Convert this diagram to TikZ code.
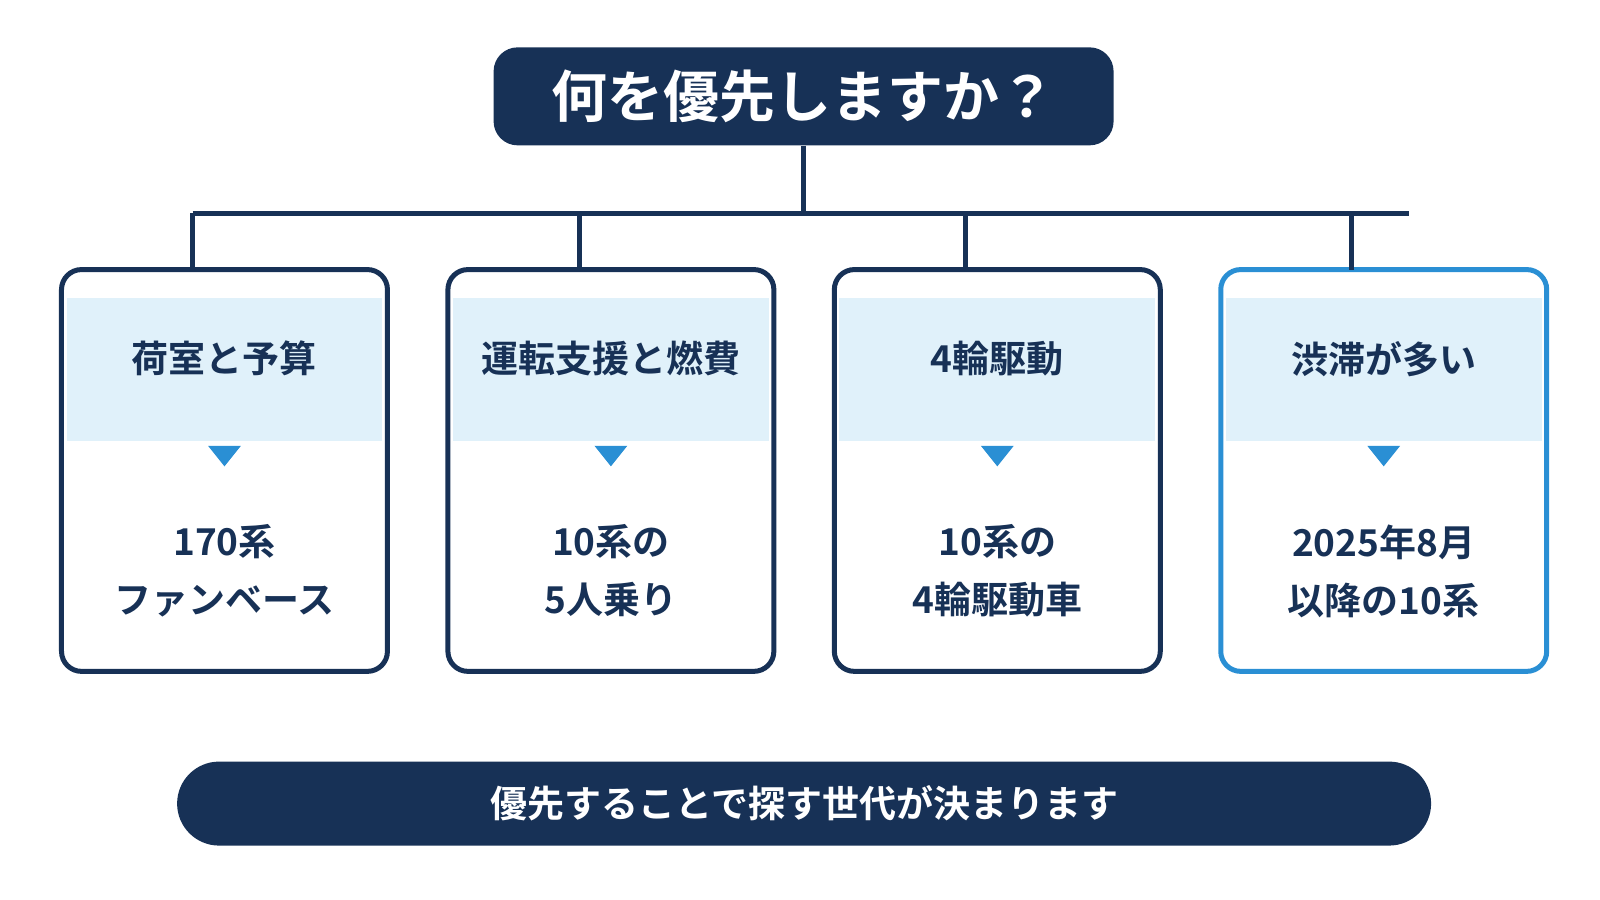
\documentclass[tikz,border=0pt]{standalone}
\usepackage{fontspec}
\setmainfont{Noto Sans CJK JP Bold}
\definecolor{navy}{HTML}{173156}
\definecolor{accent}{HTML}{2A8FD4}
\definecolor{band}{HTML}{E0F1FA}
\begin{document}
\begin{tikzpicture}[x=0.5125pt,y=-0.5125pt,
  pill/.style={fill=navy,text=white,rounded corners=12pt},
  card/.style={draw=navy,line width=1.5pt,rounded corners=10pt},
  link/.style={draw=navy,line width=2.5pt}]
  \useasboundingbox (0,0) rectangle (1561,878);
  % title
  \node[pill,minimum width=310pt,minimum height=49pt,font=\fontsize{28}{30}\selectfont] (title) at (784,94) {何を優先しますか？};
  \coordinate (hub) at (784,208);
  \draw[link] (title.south) -- (hub);
  \draw[link] (188,208) -- (1375,208);
  % cards
  \foreach \i/\x/\head/\body/\col in {
    a/219/荷室と予算/{170系\\ファンベース}/navy,
    b/596/運転支援と燃費/{10系の\\5人乗り}/navy,
    c/973/4輪駆動/{10系の\\4輪駆動車}/navy,
    d/1350/渋滞が多い/{2025年8月\\以降の10系}/accent} {
    \fill[band] (\x-154,291) rectangle (\x+154,430);
    \draw[card,draw=\col,line width={\ifx\col navy 1.5pt\else 2.5pt\fi}] (\x-159,263) rectangle (\x+159,655);
    \node[text=navy,font=\fontsize{18.5}{22}\selectfont] (h\i) at (\x,350) {\head};
    \node[text=navy,font=\fontsize{18.5}{29}\selectfont,align=center] (t\i) at (\x,557) {\body};
    \fill[accent] (\x-16,435) -- (\x+16,435) -- (\x,455) -- cycle;
    \coordinate (top\i) at (\x-31,208);
    \draw[link] (top\i) -- (\x-31,263);
  }
  % footer
  \node[pill,rounded corners=21pt,minimum width=627pt,minimum height=42pt,font=\fontsize{18.5}{22}\selectfont] (foot) at (784.5,784) {優先することで探す世代が決まります};
\end{tikzpicture}
\end{document}
